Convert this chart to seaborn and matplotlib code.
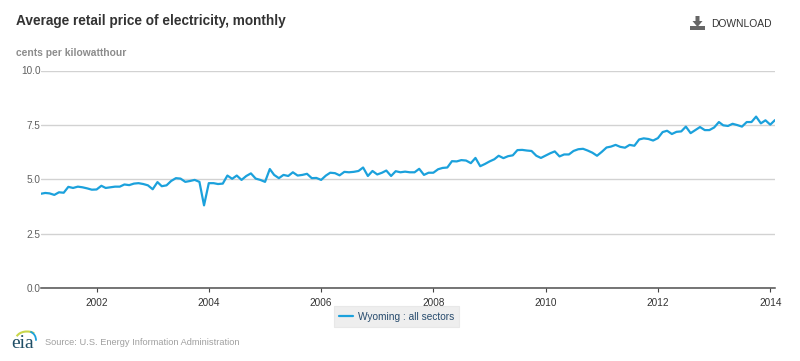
import numpy as np
import pandas as pd
import matplotlib.pyplot as plt
import seaborn as sns
from matplotlib.patches import Arc, Polygon, Rectangle

# monthly values, Jan 2001 - Feb 2014
y2001 = [4.33, 4.37, 4.35, 4.28, 4.40, 4.38, 4.65, 4.60, 4.66, 4.63, 4.58, 4.52]
y2002 = [4.53, 4.70, 4.60, 4.63, 4.66, 4.66, 4.76, 4.73, 4.80, 4.82, 4.78, 4.72]
y2003 = [4.54, 4.87, 4.68, 4.72, 4.92, 5.05, 5.03, 4.88, 4.92, 4.97, 4.88, 3.80]
y2004 = [4.82, 4.82, 4.78, 4.80, 5.17, 5.02, 5.17, 4.97, 5.15, 5.27, 5.03, 4.97]
y2005 = [4.88, 5.47, 5.20, 5.05, 5.20, 5.15, 5.32, 5.17, 5.20, 5.25, 5.05, 5.06]
y2006 = [4.97, 5.17, 5.30, 5.28, 5.18, 5.34, 5.32, 5.34, 5.38, 5.54, 5.15, 5.38]
y2007 = [5.22, 5.30, 5.40, 5.15, 5.37, 5.32, 5.35, 5.32, 5.32, 5.48, 5.20, 5.30]
y2008 = [5.30, 5.46, 5.52, 5.54, 5.83, 5.82, 5.88, 5.86, 5.74, 5.98, 5.60, 5.70]
y2009 = [5.82, 5.92, 6.08, 5.97, 6.06, 6.10, 6.34, 6.35, 6.32, 6.30, 6.08, 5.98]
y2010 = [6.09, 6.20, 6.28, 6.05, 6.14, 6.14, 6.30, 6.38, 6.40, 6.32, 6.22, 6.08]
y2011 = [6.26, 6.46, 6.50, 6.58, 6.49, 6.45, 6.58, 6.54, 6.83, 6.88, 6.85, 6.78]
y2012 = [6.89, 7.17, 7.23, 7.08, 7.18, 7.20, 7.42, 7.12, 7.26, 7.40, 7.26, 7.26]
y2013 = [7.38, 7.63, 7.48, 7.45, 7.55, 7.49, 7.42, 7.63, 7.63, 7.88, 7.57, 7.71]
y2014 = [7.51, 7.72]

series_name = "Wyoming : all sectors"
year_ticks = [2002, 2004, 2006, 2008, 2010, 2012, 2014]
price_ticks = [0, 2.5, 5, 7.5, 10]

price = y2001 + y2002 + y2003 + y2004 + y2005 + y2006 + y2007 + y2008 + y2009 + y2010 + y2011 + y2012 + y2013 + y2014
df = pd.DataFrame({"date": pd.date_range("2001-01-01", periods=len(price), freq="MS"), "price": price})

sns.set_theme(style="white")
plt.rcParams['font.family'] = ['Liberation Sans', 'DejaVu Sans']

W, H = 800, 361
fig = plt.figure(figsize=(8, 3.61), dpi=100)
ax = fig.add_axes([40.5 / W, 1 - 288 / H, 734.5 / W, 217.5 / H])

g = sns.lineplot(x="date", y="price", data=df, color="#1ba1dc", linewidth=1.6, label=series_name, ax=ax)

plt.ylim(0, 10)
plt.xlim(pd.Timestamp("2001-01-01"), df.date.iloc[-1])
g.set_xlabel("")
g.set_ylabel("")

g.set_yticks(price_ticks)
g.set_yticklabels([f"{v:.1f}" for v in price_ticks])
g.set_xticks([pd.Timestamp(f"{y}-01-01") for y in year_ticks])
g.set_xticklabels([str(y) for y in year_ticks])
g.tick_params(axis="y", length=0, labelsize=7.2, labelcolor="#606060", pad=0, left=False)
g.tick_params(axis="x", length=3, width=0.8, color="#444444", labelsize=7.2, labelcolor="#333333", pad=4, bottom=True)
g.grid(axis="y", color="#d2d2d2", linewidth=1)
g.set_axisbelow(True)
sns.despine(ax=ax, left=True, top=True, right=True)
ax.spines["bottom"].set_color("#505050")
ax.spines["bottom"].set_linewidth(1.1)

leg = g.legend(loc="center", bbox_to_anchor=(396.5 / W, 1 - 316.5 / H), bbox_transform=fig.transFigure,
               frameon=True, facecolor="#eeeeee", edgecolor="#e8e8e8", fontsize=7.3, fancybox=False,
               framealpha=1, handlelength=1.4, handletextpad=0.4, borderpad=0.5, borderaxespad=0)
leg.get_frame().set_linewidth(0.8)
leg.get_texts()[0].set_color("#274b6d")

# header and footer texts
fig.text(16 / W, 1 - 20.5 / H, "Average retail price of electricity, monthly", fontsize=9.8, fontweight="bold",
         color="#333333", va="center")
fig.text(16 / W, 1 - 53 / H, "cents per kilowatthour", fontsize=7.4, fontweight="bold", color="#8c8c8c", va="center")
fig.text(711 / W, 1 - 24 / H, "DOWNLOAD", fontsize=7.4, color="#333333", va="center")
fig.text(45 / W, 1 - 342.5 / H, "Source: U.S. Energy Information Administration", fontsize=6.65, color="#a0a0a0", va="center")

# download icon
px = lambda x, y: (x / W, 1 - y / H)
fig.add_artist(Rectangle(px(690, 30), 15 / W, 3.5 / H, transform=fig.transFigure, color="#666666", lw=0))
fig.add_artist(Polygon([px(695.5, 16), px(699.5, 16), px(699.5, 21), px(702.5, 21), px(697.5, 27), px(692.5, 21), px(695.5, 21)],
                       closed=True, transform=fig.transFigure, color="#666666", lw=0))

# eia logo
fig.text(23 / W, 1 - 344 / H, "eia", family="Liberation Serif", fontsize=14, color="#1f4e66", ha="center", va="center")
fig.add_artist(Arc(px(27, 339), 22 / W, 15 / H, theta1=60, theta2=150, transform=fig.transFigure, color="#c9d64a", lw=1.5))
fig.add_artist(Arc(px(27, 340), 18 / W, 18 / H, theta1=-10, theta2=80, transform=fig.transFigure, color="#1ba1dc", lw=1.3))

plt.savefig("out.png", dpi=100)
